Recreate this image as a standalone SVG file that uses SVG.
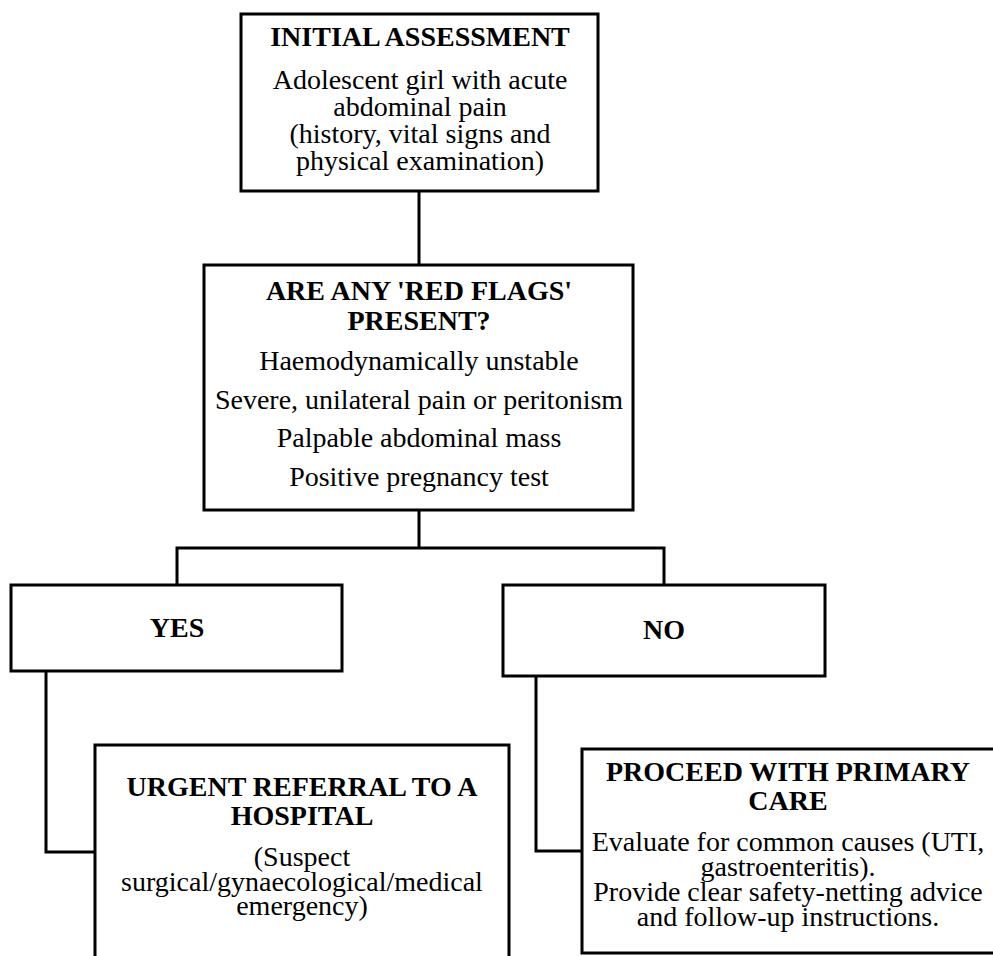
<svg xmlns="http://www.w3.org/2000/svg" width="993" height="956" viewBox="0 0 993 956">
<style>
.box{fill:#fff;stroke:#000;stroke-width:3}
.conn{fill:none;stroke:#000;stroke-width:3}
text{font-family:"Liberation Serif","Times New Roman",Times,serif;font-size:28px;fill:#000;text-anchor:middle}
.b{font-weight:bold}
</style>
<rect width="993" height="956" fill="#fff"/>
<g id="connectors">
<path class="conn" d="M419 191V265"/>
<path class="conn" d="M419 510V548M177 585V548H664V585"/>
<path class="conn" d="M46 671V852H95"/>
<path class="conn" d="M536 676V851H582"/>
</g>
<g id="initial">
<rect class="box" x="241" y="14" width="357" height="177"/>
<text class="b" x="420" y="46">INITIAL ASSESSMENT</text>
<text x="420" y="89">Adolescent girl with acute</text>
<text x="420" y="116">abdominal pain</text>
<text x="420" y="143">(history, vital signs and</text>
<text x="420" y="170">physical examination)</text>
</g>
<g id="redflags">
<rect class="box" x="204" y="265" width="429" height="245"/>
<text class="b" x="419" y="300">ARE ANY 'RED FLAGS'</text>
<text class="b" x="419" y="330">PRESENT?</text>
<text x="419" y="370">Haemodynamically unstable</text>
<text x="419" y="409">Severe, unilateral pain or peritonism</text>
<text x="419" y="447">Palpable abdominal mass</text>
<text x="419" y="486">Positive pregnancy test</text>
</g>
<g id="yes">
<rect class="box" x="11" y="585" width="331" height="86"/>
<text class="b" x="177" y="637">YES</text>
</g>
<g id="no">
<rect class="box" x="503" y="585" width="322" height="91"/>
<text class="b" x="664" y="639">NO</text>
</g>
<g id="urgent">
<rect class="box" x="95" y="745" width="414" height="230"/>
<text class="b" x="302" y="796">URGENT REFERRAL TO A</text>
<text class="b" x="302" y="825">HOSPITAL</text>
<text x="302" y="866">(Suspect</text>
<text x="302" y="891">surgical/gynaecological/medical</text>
<text x="302" y="915">emergency)</text>
</g>
<g id="primary">
<rect class="box" x="582" y="749" width="420" height="204"/>
<text class="b" x="788" y="781">PROCEED WITH PRIMARY</text>
<text class="b" x="788" y="810">CARE</text>
<text x="788" y="851">Evaluate for common causes (UTI,</text>
<text x="788" y="876">gastroenteritis).</text>
<text x="788" y="901">Provide clear safety-netting advice</text>
<text x="788" y="926">and follow-up instructions.</text>
</g>
</svg>
